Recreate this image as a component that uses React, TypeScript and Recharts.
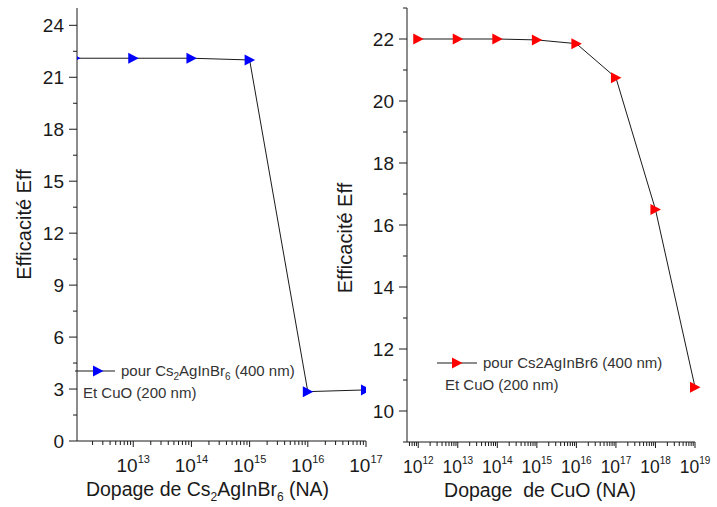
import React from 'react';
import { LineChart, Line, XAxis, YAxis, Legend, Label } from 'recharts';

// Left panel: doping of Cs2AgInBr6
const leftDoping = [1e12, 1e13, 1e14, 1e15, 1e16, 1e17];
const leftEff = [22.1, 22.1, 22.1, 22.0, 2.85, 2.95];
const leftMajorX = [1e13, 1e14, 1e15, 1e16, 1e17];
const leftMajorY = [0, 3, 6, 9, 12, 15, 18, 21, 24];
const leftTicksY = [0, 1.5, 3, 4.5, 6, 7.5, 9, 10.5, 12, 13.5, 15, 16.5, 18, 19.5, 21, 22.5, 24];

// Right panel: doping of CuO
const rightDoping = [1e12, 1e13, 1e14, 1e15, 1e16, 1e17, 1e18, 1e19];
const rightEff = [22.0, 22.0, 22.0, 21.97, 21.85, 20.75, 16.5, 10.77];
const rightMajorX = [1e12, 1e13, 1e14, 1e15, 1e16, 1e17, 1e18, 1e19];
const rightMajorY = [10, 12, 14, 16, 18, 20, 22];
const rightTicksY = [9, 10, 11, 12, 13, 14, 15, 16, 17, 18, 19, 20, 21, 22, 23];

const mantissas = [2, 3, 4, 5, 6, 7, 8, 9];
const FONT = '"Liberation Sans", Arial, sans-serif';
const INK = '#1a1a1a';

// majors plus the 2..9 minor ticks of each decade
const logTicks = (majors: number[], from: number) => {
  const out: number[] = [];
  const decades = [majors[0] / 10, ...majors];
  decades.forEach((d) => {
    out.push(d);
    mantissas.forEach((m) => out.push(m * d));
  });
  return out.filter((v) => v >= from && v <= majors[majors.length - 1] * 1.0001);
};

const RightTriangle = ({ cx, cy, fill }: any) => {
  if (cx == null || cy == null) return null;
  return <polygon points={`${cx - 5},${cy - 5.5} ${cx + 5.5},${cy} ${cx - 5},${cy + 5.5}`} fill={fill} />;
};

const XTick = ({ x, y, payload, majors, size = 19, sup = 11 }: any) => {
  const v = payload.value;
  const major = majors.some((m: number) => Math.abs(m - v) / m < 1e-6);
  const exp = Math.round(Math.log10(v));
  return (
    <g>
      <line x1={x} x2={x} y1={y} y2={y + (major ? 6 : 4)} stroke={INK} />
      {major && (
        <text x={x} y={y + 31} textAnchor="middle" fontSize={size} fill={INK} fontFamily={FONT}>
          10<tspan dy={-9} fontSize={sup}>{exp}</tspan>
        </text>
      )}
    </g>
  );
};

const YTick = ({ x, y, payload, majors }: any) => {
  const major = majors.includes(payload.value);
  return (
    <g>
      <line x1={x - (major ? 8 : 4)} x2={x} y1={y} y2={y} stroke={INK} />
      {major && (
        <text x={x - 13} y={y} dy="0.36em" textAnchor="end" fontSize={19} fill={INK} fontFamily={FONT}>
          {payload.value}
        </text>
      )}
    </g>
  );
};

const YTitle = ({ viewBox, dx, dy }: any) => {
  const x = viewBox.x + dx;
  const y = viewBox.y + viewBox.height / 2 + dy;
  return (
    <text x={x} y={y} transform={`rotate(-90, ${x}, ${y})`} textAnchor="middle" dominantBaseline="central"
      fontSize={20} fill={INK} fontFamily={FONT}>
      Efficacité Eff
    </text>
  );
};

const LeftXTitle = ({ viewBox }: any) => (
  <text x={viewBox.x + viewBox.width / 2 - 14} y={viewBox.y + 55} textAnchor="middle" fontSize={19.5} fill={INK} fontFamily={FONT}>
    Dopage de Cs<tspan dy={5} fontSize={12}>2</tspan>
    <tspan dy={-5}>AgInBr</tspan>
    <tspan dy={5} fontSize={12}>6</tspan>
    <tspan dy={-5}>{' (NA)'}</tspan>
  </text>
);

const RightXTitle = ({ viewBox }: any) => (
  <text x={viewBox.x + viewBox.width / 2 - 11} y={viewBox.y + 55} textAnchor="middle" fontSize={19.5} fill={INK}
    fontFamily={FONT} style={{ whiteSpace: 'pre' }}>
    {'Dopage  de CuO (NA)'}
  </text>
);

const LegendBox = ({ color, label, markerX }: any) => (
  <div style={{ fontFamily: FONT, fontSize: 15, lineHeight: '22px', color: '#333', whiteSpace: 'nowrap' }}>
    <div style={{ display: 'flex', alignItems: 'center', height: 22 }}>
      <svg width={40} height={14}>
        <line x1={0} x2={40} y1={7} y2={7} stroke={INK} />
        <RightTriangle cx={markerX} cy={7} fill={color} />
      </svg>
      <span style={{ marginLeft: 6 }}>{label}</span>
    </div>
    <div style={{ marginLeft: 8 }}>Et CuO (200 nm)</div>
  </div>
);

const leftData = leftDoping.map((x, i) => ({ x, y: leftEff[i] }));
const rightData = rightDoping.map((x, i) => ({ x, y: rightEff[i] }));

export default function App() {
  return (
    <div style={{ position: 'absolute', left: 0, top: 0, width: 717, height: 507, background: '#fff', overflow: 'hidden' }}>
      <div style={{ position: 'absolute', left: 0, top: 0 }}>
        <LineChart width={400} height={507} data={leftData} margin={{ top: 8, right: 34, bottom: 0, left: 0 }}>
          <XAxis dataKey="x" type="number" scale="log" domain={[1.08e12, 1e17]} allowDataOverflow
            ticks={logTicks(leftMajorX, 1.08e12)} interval={0} height={66} tickSize={0} tickMargin={0}
            axisLine={{ stroke: INK }} tickLine={false} tick={<XTick majors={leftMajorX} />}>
            <Label content={<LeftXTitle />} />
          </XAxis>
          <YAxis type="number" domain={[0, 25]} ticks={leftTicksY} interval={0} width={77} tickSize={0} tickMargin={0}
            axisLine={{ stroke: INK }} tickLine={false} tick={<YTick majors={leftMajorY} />}>
            <Label content={<YTitle dx={24} dy={0} />} />
          </YAxis>
          <Legend layout="horizontal" verticalAlign="middle" align="center"
            wrapperStyle={{ left: 75, top: 360, width: 'auto' }}
            content={() => (
              <LegendBox color="#0000ff" markerX={23}
                label={<>pour Cs<sub style={{ fontSize: 10, lineHeight: 0 }}>2</sub>AgInBr<sub style={{ fontSize: 10, lineHeight: 0 }}>6</sub> (400 nm)</>} />
            )} />
          <Line dataKey="y" stroke={INK} strokeWidth={1} isAnimationActive={false}
            dot={(p: any) => <RightTriangle key={p.index} cx={p.cx} cy={p.cy} fill="#0000ff" />} />
        </LineChart>
      </div>
      <div style={{ position: 'absolute', left: 330, top: 0 }}>
        <LineChart width={387} height={507} data={rightData} margin={{ top: 8, right: 22, bottom: 0, left: 0 }}>
          <XAxis dataKey="x" type="number" scale="log" domain={[5.2e11, 1e19]}
            ticks={logTicks(rightMajorX, 5.2e11)} interval={0} height={65} tickSize={0} tickMargin={0}
            axisLine={{ stroke: INK }} tickLine={false} tick={<XTick majors={rightMajorX} size={17.5} sup={10} />}>
            <Label content={<RightXTitle />} />
          </XAxis>
          <YAxis type="number" domain={[9, 23]} ticks={rightTicksY} interval={0} width={77} tickSize={0} tickMargin={0}
            axisLine={{ stroke: INK }} tickLine={false} tick={<YTick majors={rightMajorY} />}>
            <Label content={<YTitle dx={15} dy={13} />} />
          </YAxis>
          <Legend layout="horizontal" verticalAlign="middle" align="center"
            wrapperStyle={{ left: 107, top: 352, width: 'auto' }}
            content={() => <LegendBox color="#ff0000" markerX={20} label="pour Cs2AgInBr6 (400 nm)" />} />
          <Line dataKey="y" stroke={INK} strokeWidth={1} isAnimationActive={false}
            dot={(p: any) => <RightTriangle key={p.index} cx={p.cx} cy={p.cy} fill="#ff0000" />} />
        </LineChart>
      </div>
    </div>
  );
}
